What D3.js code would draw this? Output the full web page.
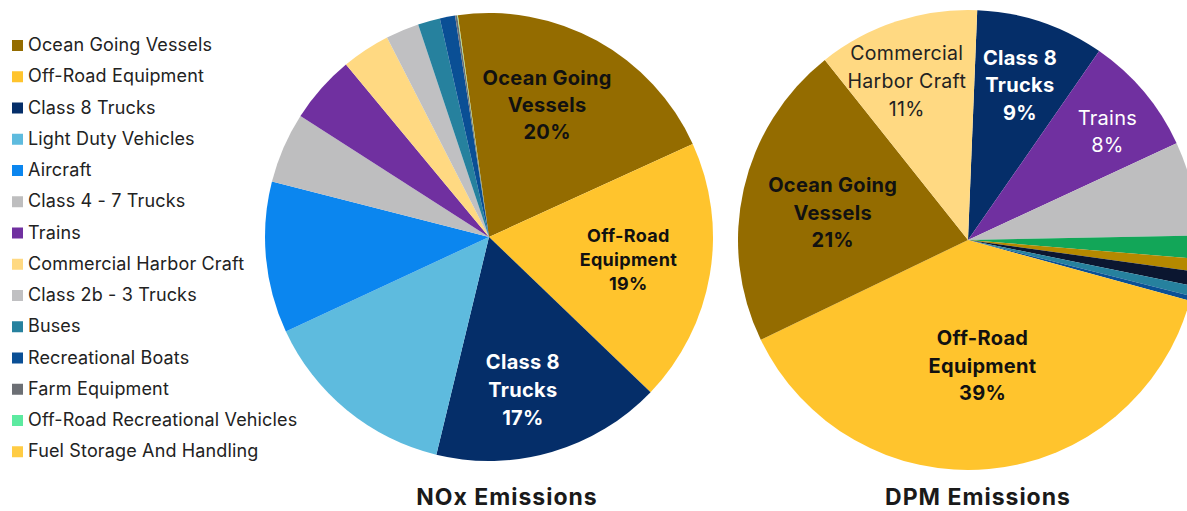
<!DOCTYPE html>
<html>
<head>
<meta charset="utf-8">
<script src="https://cdn.jsdelivr.net/npm/d3@7"></script>
<style>
  body { margin: 0; background: #fff; }
  svg { display: block; font-family: Inter, "Noto Sans", sans-serif; }
</style>
</head>
<body>
<div id="chart"></div>
<script>
// legend categories and their colours (NOx order)
var categories = ["Ocean Going Vessels", "Off-Road Equipment", "Class 8 Trucks", "Light Duty Vehicles",
  "Aircraft", "Class 4 - 7 Trucks", "Trains", "Commercial Harbor Craft", "Class 2b - 3 Trucks",
  "Buses", "Recreational Boats", "Farm Equipment", "Off-Road Recreational Vehicles", "Fuel Storage And Handling"];
var colors = ["#946c00", "#ffc42d", "#052e69", "#5ebbde", "#0b86ef", "#bebebf", "#7030a0", "#ffd982",
  "#c0c0c2", "#26819e", "#0a4f95", "#6c6f74", "#5ceaa0", "#ffcc44"];

// NOx shares (%) in legend order
var noxValues = [20.4, 19.0, 16.6, 14.3, 10.9, 5.1, 4.9, 3.5, 2.4, 1.6, 1.1, 0.15, 0.03, 0.02];

// DPM shares (%) in drawing order
var dpmNames = ["Class 8 Trucks", "Trains", "Class 4 - 7 Trucks", "Farm Equipment", "Off-Road Recreational Vehicles",
  "Class 2b - 3 Trucks", "Buses", "Recreational Boats", "Off-Road Equipment", "Ocean Going Vessels", "Commercial Harbor Craft"];
var dpmValues = [9.0, 8.4, 6.6, 1.6, 0.9, 1.0, 0.7, 0.35, 38.5, 21.4, 11.3];
var dpmColors = ["#052e69", "#7030a0", "#bebebf", "#12a658", "#b58900", "#0b1630", "#26819e", "#0a5095",
  "#ffc42d", "#946c00", "#ffd982"];

var W = 1187, H = 511;
var svg = d3.select("#chart").append("svg").attr("width", W).attr("height", H);

// Legend
var legend = svg.append("g");
var rows = legend.selectAll("g").data(categories).enter().append("g")
  .attr("transform", function(d, i) { return "translate(12," + (51 + i * 31.25) + ")"; });
rows.append("rect").attr("x", 0).attr("y", -11).attr("width", 11).attr("height", 11)
  .style("fill", function(d, i) { return colors[i]; });
rows.append("text").attr("x", 16).attr("y", 0).text(function(d) { return d; })
  .style("font-size", "18px").style("letter-spacing", "0.15px").style("fill", "#222");

function drawPie(opts) {
  var g = svg.append("g").attr("transform", "translate(" + opts.cx + "," + opts.cy + ")");
  var total = d3.sum(opts.values);
  var pie = d3.pie().sort(null).value(function(d) { return d.v; })
    .startAngle(opts.start * Math.PI / 180).endAngle(opts.start * Math.PI / 180 + 2 * Math.PI);
  var data = opts.names.map(function(n, i) { return { name: n, v: opts.values[i], color: opts.colors[i] }; });
  var arcs = pie(data);
  var arc = d3.arc().innerRadius(0).outerRadius(opts.r);
  g.selectAll("path").data(arcs).enter().append("path")
    .attr("d", arc)
    .style("fill", function(d) { return d.data.color; });

  // slice labels, placed near the centroid of each labelled slice
  arcs.forEach(function(a) {
    var lab = opts.labels[a.data.name];
    if (!lab) return;
    var ang = (a.startAngle + a.endAngle) / 2 + (lab.da || 0) * Math.PI / 180;
    var rr = opts.r * lab.k;
    var c = [Math.sin(ang) * rr, -Math.cos(ang) * rr];
    var lines = lab.lines.concat([Math.round(a.data.v / total * 100) + "%"]);
    var t = g.append("text")
      .attr("text-anchor", "middle")
      .style("font-size", lab.size + "px")
      .style("letter-spacing", "0.3px")
      .style("font-weight", lab.bold ? "700" : "400")
      .style("fill", lab.fill);
    lines.forEach(function(l, i) {
      t.append("tspan").attr("x", c[0])
        .attr("y", c[1] + (i - (lines.length - 1) / 2) * lab.lh + lab.size * 0.36)
        .text(l);
    });
  });

  svg.append("text").attr("x", opts.titleX).attr("y", 504.5)
    .attr("text-anchor", "middle")
    .style("font-size", "23px").style("letter-spacing", "1px")
    .style("font-weight", "700").style("fill", "#1a1a1a")
    .text(opts.title);
}

drawPie({
  cx: 489, cy: 237, r: 224, start: -8,
  names: categories, values: noxValues, colors: colors,
  title: "NOx Emissions", titleX: 507,
  labels: {
    "Ocean Going Vessels": { lines: ["Ocean Going", "Vessels"], k: 0.645, da: -5, size: 20, lh: 27, bold: true, fill: "#111" },
    "Off-Road Equipment": { lines: ["Off-Road", "Equipment"], k: 0.63, da: -0.6, size: 18, lh: 24, bold: true, fill: "#111" },
    "Class 8 Trucks": { lines: ["Class 8", "Trucks"], k: 0.70, da: 3.8, size: 20, lh: 28, bold: true, fill: "#fff" }
  }
});

drawPie({
  cx: 968, cy: 240, r: 230, start: 2.3,
  names: dpmNames, values: dpmValues, colors: dpmColors,
  title: "DPM Emissions", titleX: 978,
  labels: {
    "Commercial Harbor Craft": { lines: ["Commercial", "Harbor Craft"], k: 0.74, da: -3, size: 19.5, lh: 28, bold: false, fill: "#222" },
    "Class 8 Trucks": { lines: ["Class 8", "Trucks"], k: 0.71, size: 20, lh: 27.5, bold: true, fill: "#fff" },
    "Trains": { lines: ["Trains"], k: 0.77, da: 2, size: 20, lh: 27, bold: false, fill: "#fff" },
    "Ocean Going Vessels": { lines: ["Ocean Going", "Vessels"], k: 0.60, da: -1.5, size: 20, lh: 27.5, bold: true, fill: "#111" },
    "Off-Road Equipment": { lines: ["Off-Road", "Equipment"], k: 0.55, da: -1.4, size: 20, lh: 27.5, bold: true, fill: "#111" }
  }
});
</script>
</body>
</html>
